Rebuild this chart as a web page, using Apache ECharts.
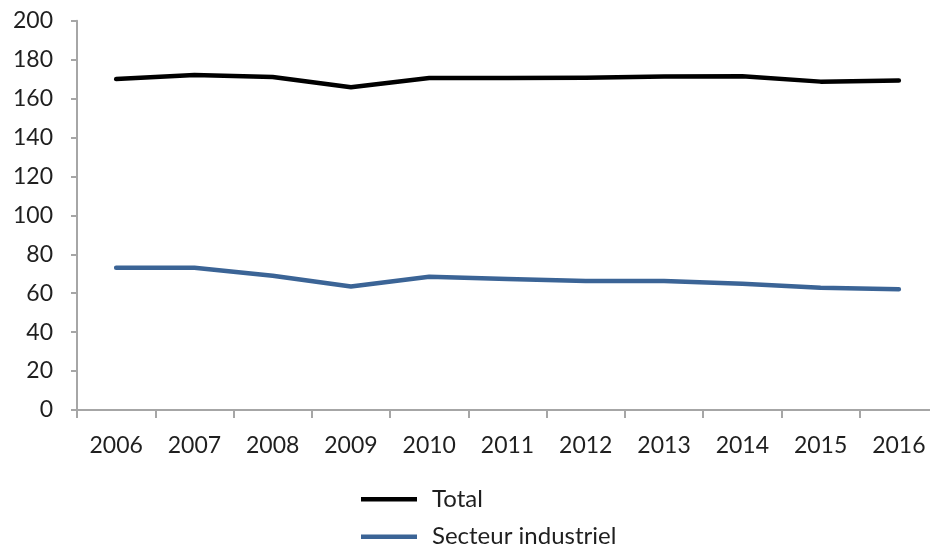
<!DOCTYPE html>
<html>
<head>
<meta charset="utf-8">
<script src="https://cdn.jsdelivr.net/npm/echarts@6/dist/echarts.min.js"></script>
<style>html,body{margin:0;padding:0;background:#fff}#c{width:930px;height:549px}</style>
</head>
<body>
<div id="c"></div>
<script>
const years = ['2006','2007','2008','2009','2010','2011','2012','2013','2014','2015','2016'];
const total = [170.0, 172.1, 171.1, 165.8, 170.6, 170.6, 170.7, 171.3, 171.5, 168.7, 169.3];
const industriel = [73.1, 73.1, 69.0, 63.4, 68.5, 67.3, 66.3, 66.3, 64.9, 62.8, 62.0];
const seriesNames = ['Total', 'Secteur industriel'];
const yTicks = {min: 0, max: 200, interval: 20};

const FONT = 'Lato';
const TXT = '#1f1f1f';
const AX = '#a6a6a6';
const legendBase = {
  orient: 'vertical', left: 361, padding: 0,
  itemWidth: 56, itemHeight: 4.5,
  icon: 'rect',
  textStyle: {fontFamily: FONT, fontSize: 24, color: TXT, lineHeight: 24, padding: [0, 0, 0, 10]}
};
const chart = echarts.init(document.getElementById('c'), null, {renderer: 'canvas'});
chart.setOption({
  animation: false,
  backgroundColor: '#fff',
  grid: {left: 77, top: 20.7, width: 861, height: 389.3, containLabel: false, outerBoundsMode: 'none'},
  legend: [
    Object.assign({}, legendBase, {top: 487.3, data: [seriesNames[0]]}),
    Object.assign({}, legendBase, {top: 524.7, data: [seriesNames[1]]})
  ],
  xAxis: {
    type: 'category', data: years, boundaryGap: true,
    axisLine: {lineStyle: {color: AX, width: 2}},
    axisTick: {show: true, interval: 0, length: 8, lineStyle: {color: AX, width: 2}},
    axisLabel: {interval: 0, margin: 24, fontFamily: FONT, fontSize: 23, color: TXT},
    splitLine: {show: false}
  },
  yAxis: {
    type: 'value', min: yTicks.min, max: yTicks.max, interval: yTicks.interval,
    axisLine: {show: true, lineStyle: {color: AX, width: 2}},
    axisTick: {show: true, length: 6, lineStyle: {color: AX, width: 2}},
    axisLabel: {margin: 24, fontFamily: FONT, fontSize: 23, color: TXT},
    splitLine: {show: false}
  },
  series: [
    {name: seriesNames[0], type: 'line', data: total, symbol: 'none',
     lineStyle: {color: '#000', width: 4.5, cap: 'round', join: 'round'}, itemStyle: {color: '#000'}},
    {name: seriesNames[1], type: 'line', data: industriel, symbol: 'none',
     lineStyle: {color: '#3b6496', width: 4.5, cap: 'round', join: 'round'}, itemStyle: {color: '#3b6496'}}
  ]
});
</script>
</body>
</html>
